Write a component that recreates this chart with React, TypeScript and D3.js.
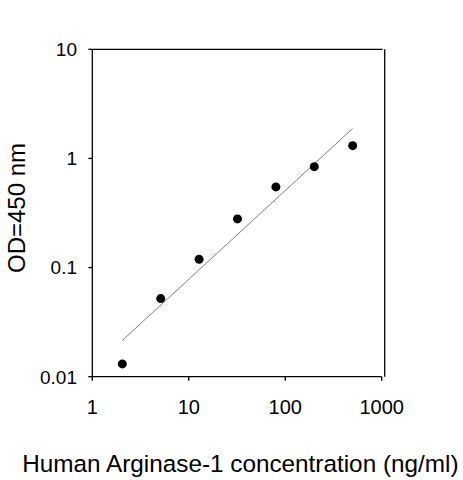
import { useEffect, useRef } from "react";
import * as d3 from "d3";

// standard concentrations (ng/ml) and measured OD values
const concentrations = [2.048, 5.12, 12.8, 32, 80, 200, 500];
const odValues = [0.0131, 0.052, 0.119, 0.279, 0.548, 0.841, 1.31];

// end points of the log-log fit line
const fitX = [2.048, 500];
const fitY = [0.0215, 1.88];

const xTicks = [1, 10, 100, 1000];
const yTicks = [0.01, 0.1, 1, 10];
const yTickLabels = ["0.01", "0.1", "1", "10"];

const xTitle = "Human Arginase-1 concentration (ng/ml)";
const yTitle = "OD=450 nm";

export default function App() {
  const svgRef = useRef<SVGSVGElement | null>(null);

  useEffect(() => {
    if (!svgRef.current) return;

    const width = 463;
    const height = 480;
    const font = "'Liberation Sans', Arial, sans-serif";

    const svg = d3.select(svgRef.current).attr("width", width).attr("height", height);
    svg.selectAll("*").remove();

    const x = d3.scaleLog().domain([1, 1000]).range([92.3, 381.7]);
    const y = d3.scaleLog().domain([0.01, 10]).range([376.7, 49.3]);

    const g = svg.append("g").attr("font-family", font).attr("fill", "#000");

    // frame: top and right lines (right one sits a little past the last tick)
    const right = x(1000) + 3;
    g.append("line")
      .attr("x1", x(1)).attr("x2", x(1000) + 1)
      .attr("y1", y(10)).attr("y2", y(10))
      .attr("stroke", "#000").attr("stroke-width", 1.3);
    g.append("line")
      .attr("x1", right).attr("x2", right)
      .attr("y1", y(10)).attr("y2", y(0.01))
      .attr("stroke", "#000").attr("stroke-width", 1.3);

    // left axis
    g.append("line")
      .attr("x1", x(1)).attr("x2", x(1))
      .attr("y1", y(10)).attr("y2", y(0.01))
      .attr("stroke", "#000").attr("stroke-width", 1.3);
    g.selectAll(".ytick")
      .data(yTicks)
      .join("line")
      .attr("class", "ytick")
      .attr("x1", x(1) - 4).attr("x2", x(1))
      .attr("y1", (d) => y(d)).attr("y2", (d) => y(d))
      .attr("stroke", "#000").attr("stroke-width", 1.3);
    g.selectAll(".ylab")
      .data(yTicks)
      .join("text")
      .attr("class", "ylab")
      .attr("x", 77)
      .attr("y", (d) => y(d))
      .attr("dy", "0.36em")
      .attr("text-anchor", "end")
      .attr("font-size", 19)
      .text((_, i) => yTickLabels[i]);

    // bottom axis
    g.append("line")
      .attr("x1", x(1)).attr("x2", x(1000))
      .attr("y1", y(0.01)).attr("y2", y(0.01))
      .attr("stroke", "#000").attr("stroke-width", 1.3);
    g.selectAll(".xtick")
      .data(xTicks)
      .join("line")
      .attr("class", "xtick")
      .attr("x1", (d) => x(d)).attr("x2", (d) => x(d))
      .attr("y1", y(0.01)).attr("y2", y(0.01) + 4)
      .attr("stroke", "#000").attr("stroke-width", 1.3);
    g.selectAll(".xlab")
      .data(xTicks)
      .join("text")
      .attr("class", "xlab")
      .attr("x", (d) => x(d))
      .attr("y", 414)
      .attr("text-anchor", "middle")
      .attr("font-size", 20)
      .text((d) => String(d));

    // fit line
    const line = d3
      .line<number>()
      .x((d) => x(d))
      .y((_, i) => y(fitY[i]));
    g.append("path")
      .datum(fitX)
      .attr("fill", "none")
      .attr("stroke", "#808080")
      .attr("stroke-width", 1)
      .attr("d", line);

    // data points
    g.selectAll(".dot")
      .data(concentrations)
      .join("circle")
      .attr("class", "dot")
      .attr("cx", (d) => x(d))
      .attr("cy", (_, i) => y(odValues[i]))
      .attr("r", 4.5)
      .attr("fill", "#000");

    // titles
    g.append("text")
      .attr("x", 240.4)
      .attr("y", 471.5)
      .attr("text-anchor", "middle")
      .attr("font-size", 24.3)
      .text(xTitle);
    g.append("text")
      .attr("transform", "translate(25,208) rotate(-90)")
      .attr("text-anchor", "middle")
      .attr("font-size", 24)
      .text(yTitle);
  }, []);

  return (
    <div style={{ position: "absolute", left: 0, top: 0, background: "#fff" }}>
      <svg ref={svgRef} style={{ display: "block" }}></svg>
    </div>
  );
}
